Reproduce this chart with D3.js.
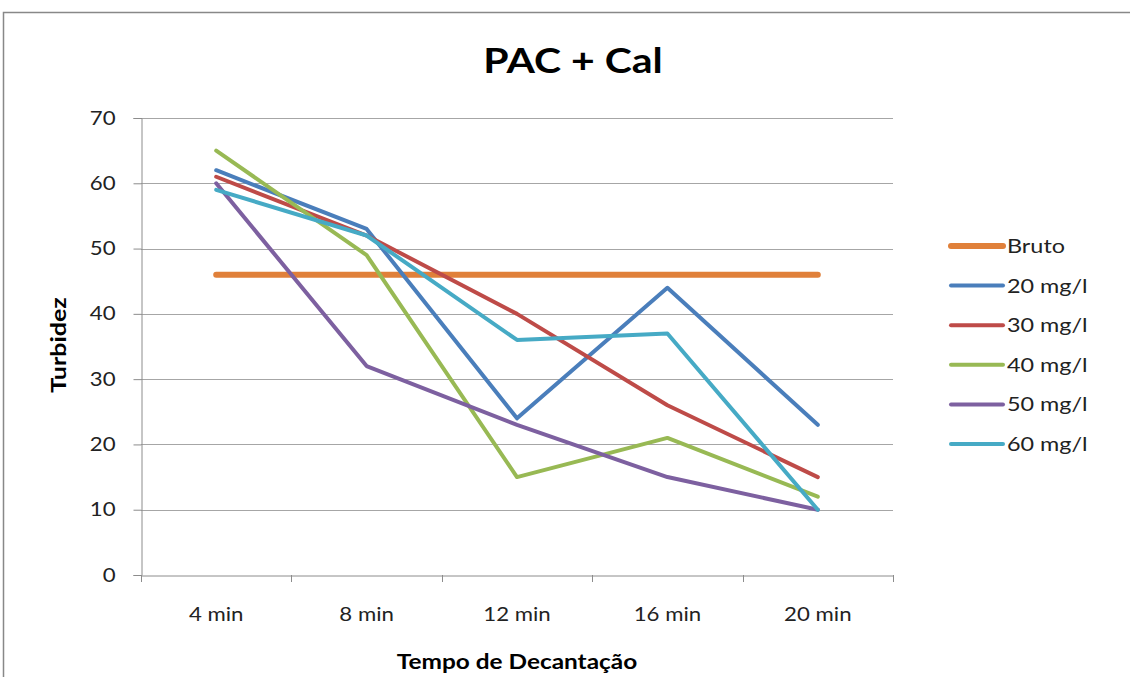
<!DOCTYPE html>
<html><head><meta charset="utf-8">
<script src="https://cdn.jsdelivr.net/npm/d3@7"></script>
<style>body{margin:0;background:#fff}svg{display:block}text{font-family:Lato,"Open Sans",sans-serif}</style>
</head><body><svg id="c" width="1130" height="677"></svg>
<script>
const categories = ["4 min","8 min","12 min","16 min","20 min"];
const seriesNames = ["Bruto","20 mg/l","30 mg/l","40 mg/l","50 mg/l","60 mg/l"];
const bruto = [46,46,46,46,46];
const s20 = [62,53,24,44,23];
const s30 = [61,52,40,26,15];
const s40 = [65,49,15,21,12];
const s50 = [60,32,23,15,10];
const s60 = [59,52,36,37,10];
const yTicks = [0,10,20,30,40,50,60,70];
const colors = ["#E0803A","#4A7EBB","#BE4B48","#98B954","#7D60A0","#46AAC5"];
const widths = [6,4,4,4,4,4];
const allSeries = [bruto,s20,s30,s40,s50,s60];
const SX = 1.17; // horizontal stretch of text

const svg = d3.select("#c");
svg.append("rect").attr("x",3.5).attr("y",12.5).attr("width",1140).attr("height",700)
  .attr("fill","#fff").attr("stroke","#888").attr("stroke-width",1.5);

const L=141,R=893,T=118,B=575;
const x = d3.scaleBand().domain(categories).range([L,R]).paddingInner(0).paddingOuter(0);
const y = d3.scaleLinear().domain([0,70]).range([B,T]);

// gridlines
svg.append("g").selectAll("line").data(yTicks.filter(d=>d>0)).join("line")
  .attr("x1",L).attr("x2",R).attr("y1",d=>Math.round(y(d))+0.5).attr("y2",d=>Math.round(y(d))+0.5)
  .attr("stroke","#A6A6A6").attr("stroke-width",1);

// y axis
const ya = svg.append("g").attr("transform",`translate(${L+0.5},0)`)
  .call(d3.axisLeft(y).tickValues(yTicks).tickSize(8).tickPadding(10));
ya.select(".domain").attr("stroke","#8C8C8C");
ya.selectAll(".tick line").attr("stroke","#8C8C8C");
ya.selectAll("text").attr("font-size",19).attr("fill","#222").attr("font-family","Lato, sans-serif")
  .attr("x",-26/SX).attr("transform",`scale(${SX},1)`);

// x axis
const xa = svg.append("g").attr("transform",`translate(0,${B+0.5})`)
  .call(d3.axisBottom(x).tickSize(0));
xa.select(".domain").attr("stroke","#8C8C8C");
xa.selectAll("text").attr("font-size",19).attr("fill","#222").attr("font-family","Lato, sans-serif")
  .attr("dy",null).attr("y",46).attr("transform",`scale(${SX},1)`);
const bounds = categories.map(c=>x(c)).concat([R]);
svg.append("g").selectAll("line").data(bounds).join("line")
  .attr("x1",d=>Math.round(d)+0.5).attr("x2",d=>Math.round(d)+0.5).attr("y1",B).attr("y2",B+7)
  .attr("stroke","#8C8C8C");

// lines
const line = d3.line().x((d,i)=>x(categories[i])+x.bandwidth()/2).y(d=>y(d));
allSeries.forEach((s,k)=>{
  svg.append("path").datum(s).attr("d",line).attr("fill","none")
    .attr("stroke",colors[k]).attr("stroke-width",widths[k])
    .attr("stroke-linecap","round").attr("stroke-linejoin","round");
});

// titles
svg.append("text").attr("transform",`translate(573,73) scale(${SX},1)`).attr("text-anchor","middle")
  .attr("font-size",35).attr("font-weight","bold").attr("fill","#000").text("PAC + Cal");
svg.append("text").attr("transform",`translate(66,345) rotate(-90) scale(1.25,1)`).attr("text-anchor","middle")
  .attr("font-size",20).attr("font-weight","bold").attr("fill","#000").text("Turbidez");
svg.append("text").attr("transform",`translate(517,669) scale(1.22,1)`).attr("text-anchor","middle")
  .attr("font-size",20).attr("font-weight","bold").attr("fill","#000").text("Tempo de Decantação");

// legend
const lg = svg.append("g");
seriesNames.forEach((n,k)=>{
  const yy = 246 + k*39.6;
  lg.append("line").attr("x1",951).attr("x2",1003).attr("y1",yy).attr("y2",yy)
    .attr("stroke",colors[k]).attr("stroke-width",widths[k]).attr("stroke-linecap","round");
  lg.append("text").attr("transform",`translate(1007,${yy+7}) scale(${SX},1)`)
    .attr("font-size",20).attr("fill","#222").text(n);
});
</script></body></html>
